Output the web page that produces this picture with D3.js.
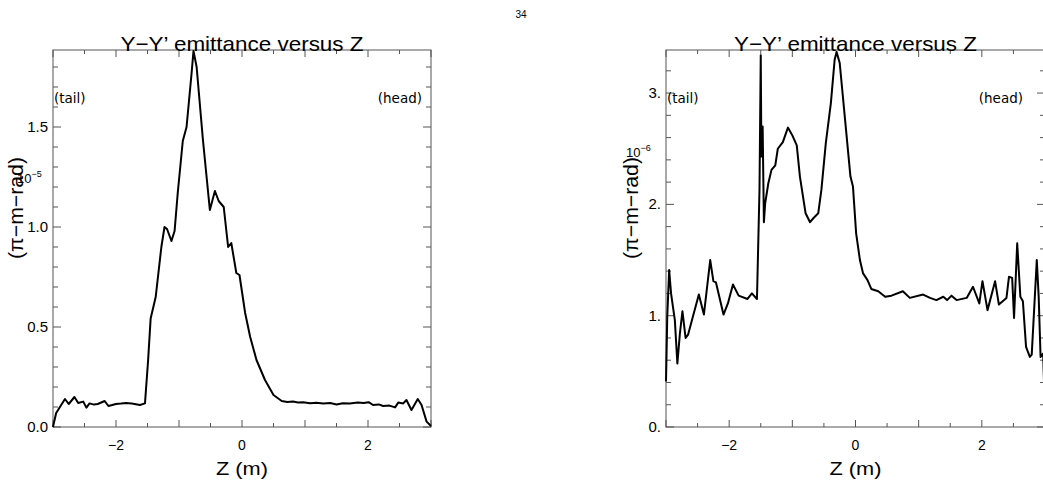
<!DOCTYPE html>
<html><head><meta charset="utf-8">
<script src="https://cdn.jsdelivr.net/npm/d3@7"></script>
<style>body{margin:0;background:#fff;} svg{display:block;}</style>
</head><body>
<svg id="c" width="1043" height="490"></svg>
<script>
// ---- data ----
const leftZ = [-3.00,-2.95,-2.89,-2.81,-2.75,-2.66,-2.60,-2.52,-2.47,-2.42,-2.35,-2.29,-2.18,-2.12,-2.00,-1.92,-1.84,-1.75,-1.62,-1.54,-1.49,-1.45,-1.37,-1.28,-1.23,-1.19,-1.12,-1.07,-1.02,-0.94,-0.88,-0.80,-0.77,-0.72,-0.62,-0.51,-0.43,-0.37,-0.29,-0.22,-0.17,-0.09,-0.04,0.05,0.13,0.23,0.365,0.50,0.63,0.72,0.81,0.89,0.97,1.08,1.18,1.29,1.40,1.50,1.60,1.71,1.84,1.93,2.01,2.08,2.17,2.24,2.34,2.43,2.48,2.56,2.61,2.69,2.79,2.85,2.93,3.00];
const leftV = [0.00,0.07,0.10,0.14,0.115,0.15,0.12,0.127,0.097,0.118,0.112,0.115,0.13,0.105,0.115,0.117,0.12,0.118,0.11,0.118,0.335,0.543,0.65,0.90,1.00,0.99,0.93,0.98,1.17,1.43,1.50,1.77,1.88,1.80,1.435,1.085,1.18,1.13,1.10,0.90,0.92,0.77,0.76,0.57,0.45,0.335,0.235,0.16,0.13,0.125,0.127,0.122,0.124,0.119,0.121,0.118,0.12,0.113,0.119,0.117,0.122,0.12,0.124,0.11,0.113,0.105,0.107,0.098,0.122,0.118,0.135,0.085,0.14,0.11,0.027,0.005];

const rightZ = [-3.00,-2.98,-2.95,-2.92,-2.86,-2.82,-2.78,-2.74,-2.69,-2.65,-2.58,-2.48,-2.40,-2.30,-2.25,-2.21,-2.09,-2.02,-1.94,-1.85,-1.71,-1.64,-1.56,-1.52,-1.50,-1.49,-1.47,-1.45,-1.43,-1.38,-1.33,-1.27,-1.23,-1.15,-1.07,-1.00,-0.93,-0.88,-0.79,-0.72,-0.66,-0.59,-0.54,-0.47,-0.39,-0.33,-0.30,-0.25,-0.16,-0.08,-0.04,0.01,0.07,0.12,0.19,0.25,0.36,0.47,0.57,0.75,0.86,1.07,1.18,1.28,1.39,1.45,1.52,1.60,1.76,1.86,1.96,2.01,2.09,2.21,2.27,2.39,2.43,2.48,2.51,2.56,2.61,2.65,2.70,2.76,2.79,2.87,2.90,2.93,2.97,2.99];
const rightV = [0.41,0.99,1.41,1.20,0.96,0.57,0.84,1.04,0.80,0.83,0.98,1.19,1.01,1.50,1.31,1.30,1.01,1.11,1.28,1.18,1.15,1.20,1.15,2.13,3.34,2.43,2.70,1.84,2.01,2.19,2.31,2.35,2.50,2.56,2.69,2.62,2.53,2.25,1.92,1.84,1.88,1.92,2.13,2.55,2.91,3.30,3.37,3.27,2.73,2.25,2.16,1.74,1.50,1.38,1.32,1.24,1.22,1.17,1.18,1.22,1.16,1.19,1.16,1.14,1.17,1.14,1.18,1.14,1.16,1.26,1.11,1.31,1.05,1.31,1.10,1.16,1.35,1.34,0.98,1.65,1.17,1.13,0.72,0.63,0.65,1.50,1.17,0.63,0.66,0.31];

const xTicks = [-2, 0, 2];
const xTickLabels = ["\u22122", "0", "2"];
const leftYTicks = [0, 0.5, 1.0, 1.5];
const leftYTickLabels = ["0.0", "0.5", "1.0", "1.5"];
const rightYTicks = [0, 1, 2, 3];
const rightYTickLabels = ["0.", "1.", "2.", "3."];
const titleText = "Y\u2212Y\u2019 emittance versus Z";
const xLabelText = "Z (m)";
const yLabelText = "(\u03c0\u2212m\u2212rad)";

const svg = d3.select("#c");
const AX = "#555";
const SANS = "'Liberation Sans', Arial, sans-serif";
const DJ = "'DejaVu Sans', sans-serif";

svg.append("text").attr("x", 521).attr("y", 18).attr("text-anchor", "middle")
  .attr("font-family", SANS).attr("font-size", 10).text("34");

function panel(o) {
  const x = d3.scaleLinear().domain([-3, 3]).range([o.x0, o.x1]);
  const y = d3.scaleLinear().domain([0, o.ymax]).range([427, 50]);
  const g = svg.append("g");
  const top = y.range()[1], bot = y.range()[0];

  g.append("rect").attr("x", o.x0).attr("y", top).attr("width", o.x1 - o.x0).attr("height", bot - top)
    .attr("fill", "none").attr("stroke", AX).attr("stroke-width", 1);

  const xt = d3.range(-3, 3.001, 0.5);
  xt.forEach(v => {
    const major = Math.abs(v - Math.round(v)) < 1e-6;
    const L = major ? 7 : 4;
    const px = x(v);
    g.append("line").attr("x1", px).attr("x2", px).attr("y1", bot).attr("y2", bot - L).attr("stroke", AX);
    g.append("line").attr("x1", px).attr("x2", px).attr("y1", top).attr("y2", top + L).attr("stroke", AX);
  });
  const yt = d3.range(0, o.ymax + 1e-6, o.ystep);
  yt.forEach(v => {
    const major = Math.abs(v / o.ymaj - Math.round(v / o.ymaj)) < 1e-6;
    const L = major ? 8 : 5;
    const py = y(v);
    g.append("line").attr("x1", o.x0).attr("x2", o.x0 + L).attr("y1", py).attr("y2", py).attr("stroke", AX);
    g.append("line").attr("x1", o.x1).attr("x2", o.x1 - L).attr("y1", py).attr("y2", py).attr("stroke", AX);
  });

  xTicks.forEach((v, i) => {
    g.append("text").attr("x", x(v)).attr("y", 450).attr("text-anchor", "middle")
      .attr("font-family", SANS).attr("font-size", 14).text(xTickLabels[i]);
  });
  o.yTicks.forEach((v, i) => {
    g.append("text").attr("x", o.x0 - 5).attr("y", y(v) + 5).attr("text-anchor", "end")
      .attr("font-family", SANS).attr("font-size", 15).text(o.yLabels[i]);
  });

  const data = o.z.map((d, i) => [d, o.v[i]]);
  const line = d3.line().x(d => x(d[0])).y(d => y(d[1]));
  g.append("path").datum(data).attr("d", line).attr("fill", "none")
    .attr("stroke", "#000").attr("stroke-width", 2).attr("stroke-linejoin", "round");

  const mid = (x(-3) + x(3)) / 2;
  g.append("text").attr("x", mid).attr("y", 51).attr("text-anchor", "middle")
    .attr("font-family", SANS).attr("font-size", 21)
    .attr("textLength", 243).attr("lengthAdjust", "spacingAndGlyphs").text(titleText);
  g.append("text").attr("x", mid).attr("y", 475).attr("text-anchor", "middle")
    .attr("font-family", SANS).attr("font-size", 19)
    .attr("textLength", 52).attr("lengthAdjust", "spacingAndGlyphs").text(xLabelText);
  g.append("text").attr("transform", `translate(${o.ylx},208) rotate(-90)`).attr("text-anchor", "middle")
    .attr("font-family", SANS).attr("font-size", 21)
    .attr("textLength", 102).attr("lengthAdjust", "spacingAndGlyphs").text(yLabelText);
  const ex = g.append("text").attr("x", o.ex).attr("y", o.ey).attr("font-family", SANS).attr("font-size", 13);
  ex.append("tspan").text("10");
  ex.append("tspan").attr("dy", -6).attr("font-size", 9).text(o.exp);
  g.append("text").attr("x", o.x0 + 1).attr("y", 103).attr("font-family", DJ).attr("font-size", 13.5).text("(tail)");
  g.append("text").attr("x", o.headX).attr("y", 103).attr("text-anchor", "end")
    .attr("font-family", DJ).attr("font-size", 13.5).text("(head)");
}

panel({x0: 53, x1: 431, ymax: 1.885, ystep: 0.1, ymaj: 0.5, yTicks: leftYTicks, yLabels: leftYTickLabels,
  z: leftZ, v: leftV, ylx: 23, ex: 17, ey: 183, exp: "\u22125", headX: 422});
panel({x0: 666, x1: 1045, ymax: 3.387, ystep: 0.2, ymaj: 1, yTicks: rightYTicks, yLabels: rightYTickLabels,
  z: rightZ, v: rightV, ylx: 638, ex: 626, ey: 157, exp: "\u22126", headX: 1023});
</script>
</body></html>
